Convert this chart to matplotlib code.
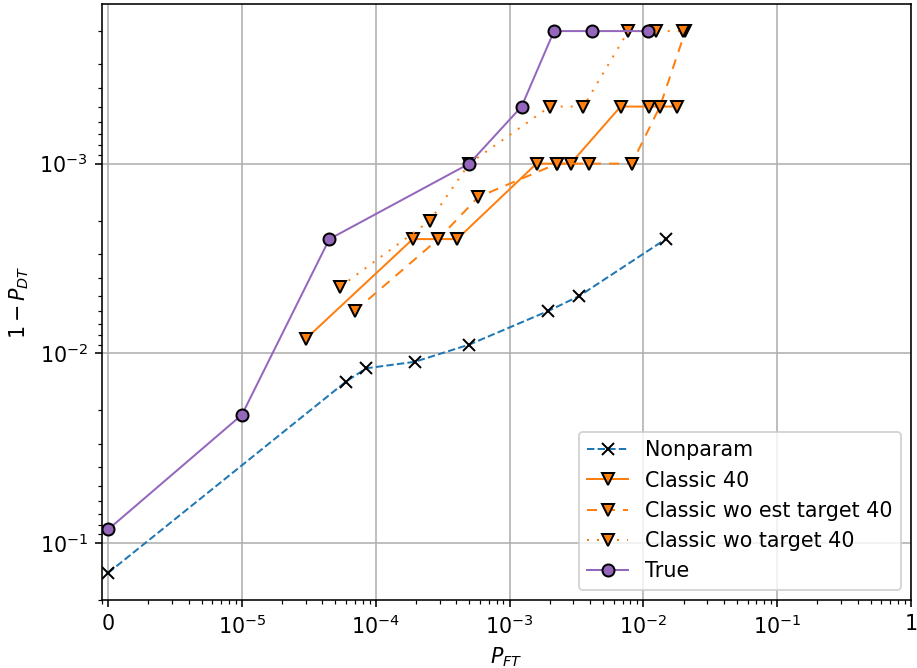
import numpy as np
import matplotlib
matplotlib.use("Agg")
import matplotlib.pyplot as plt

plt.rcParams['font.size'] = 10.3

# P_FT = 0 cannot sit on a log axis, so zeros are drawn at this floor
X_ZERO = 1e-6

# ROC points: false-target rate vs. 1 - detection rate
nonparam_pft = [0, 6.0e-5, 8.5e-5, 1.95e-4, 5.0e-4, 1.93e-3, 3.3e-3, 1.47e-2]
nonparam_miss = [0.144, 0.0141, 0.0120, 0.0111, 9.0e-3, 6.0e-3, 5.0e-3, 2.5e-3]

classic_pft = [3.0e-5, 1.89e-4, 4.06e-4, 1.59e-3, 2.27e-3, 2.86e-3,
               6.76e-3, 1.10e-2, 1.79e-2]
classic_miss = [8.4e-3, 2.5e-3, 2.5e-3, 1e-3, 1e-3, 1e-3, 5e-4, 5e-4, 5e-4]

wo_est_pft = [6.96e-5, 2.93e-4, 5.84e-4, 2.27e-3, 3.90e-3, 8.18e-3,
              1.33e-2, 2.06e-2]
wo_est_miss = [6.0e-3, 2.5e-3, 1.5e-3, 1e-3, 1e-3, 1e-3, 5e-4, 2e-4]

wo_target_pft = [5.45e-5, 2.54e-4, 5.0e-4, 2.0e-3, 3.56e-3, 7.71e-3,
                 1.24e-2, 1.99e-2]
wo_target_miss = [4.45e-3, 2.0e-3, 1e-3, 5e-4, 5e-4, 2e-4, 2e-4, 2e-4]

true_pft = [0, 1e-5, 4.5e-5, 5.0e-4, 1.23e-3, 2.15e-3, 4.13e-3, 1.08e-2]
true_miss = [0.085, 0.0211, 2.5e-3, 1e-3, 5e-4, 2e-4, 2e-4, 2e-4]

xtick_vals = [X_ZERO, 1e-5, 1e-4, 1e-3, 1e-2, 1e-1, 1]
xtick_labels = ['0', r'$10^{-5}$', r'$10^{-4}$', r'$10^{-3}$',
                r'$10^{-2}$', r'$10^{-1}$', '1']


def fx(v):
    return np.maximum(np.asarray(v, dtype=float), X_ZERO)


fig = plt.figure(figsize=(917 / 144, 668 / 144), dpi=144)
ax = fig.add_axes([102 / 917, 1 - 600 / 668, 809 / 917, 596 / 668])

ax.plot(fx(nonparam_pft), nonparam_miss, color='C0', ls='--', lw=1,
        marker='x', ms=6, mec='k', label='Nonparam')
ax.plot(fx(classic_pft), classic_miss, color='C1', ls='-', lw=1,
        marker='v', ms=6, mfc='C1', mec='k', label='Classic 40')
ax.plot(fx(wo_est_pft), wo_est_miss, color='C1', ls=(0, (5, 4)), lw=1,
        marker='v', ms=6, mfc='C1', mec='k', label='Classic wo est target 40')
ax.plot(fx(wo_target_pft), wo_target_miss, color='C1', ls=(0, (1, 4)), lw=1,
        marker='v', ms=6, mfc='C1', mec='k', label='Classic wo target 40')
ax.plot(fx(true_pft), true_miss, color='C4', ls='-', lw=1,
        marker='o', ms=6, mfc='C4', mec='k', label='True')

ax.set_xscale('log')
ax.set_yscale('log')
ax.set_xlim(0.9e-6, 1)
ax.invert_yaxis()
ax.set_xticks(xtick_vals)
ax.set_xticklabels(xtick_labels)

ax.set_xlabel(r'$P_{FT}$')
ax.set_ylabel(r'$1-P_{DT}$')
ax.grid(True)
ax.legend(loc='lower right')

plt.savefig('out.png', dpi=144)
plt.close()
